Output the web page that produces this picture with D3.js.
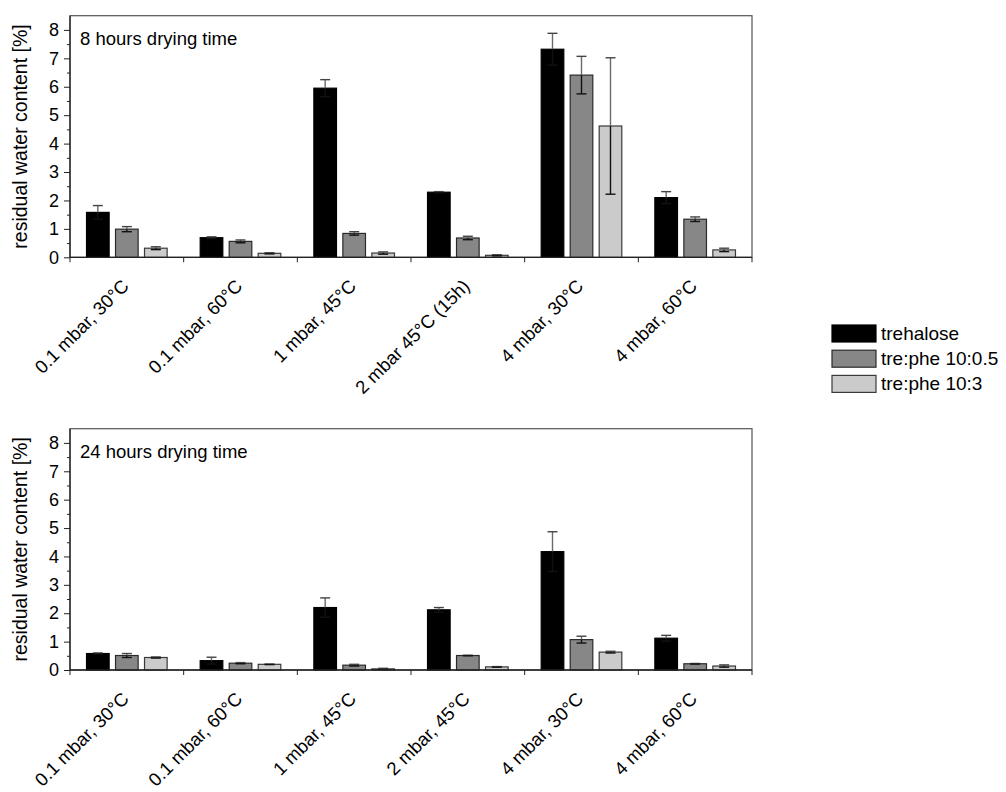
<!DOCTYPE html>
<html>
<head>
<meta charset="utf-8">
<script src="https://cdn.jsdelivr.net/npm/d3@7"></script>
<style>
  body { margin: 0; background: #fff; }
  svg { display: block; font-family: "Liberation Sans", Arial, sans-serif; }
</style>
</head>
<body>
<div id="chart"></div>
<script>
// categories
const categories8 = ["0.1 mbar, 30°C", "0.1 mbar, 60°C", "1 mbar, 45°C", "2 mbar 45°C (15h)", "4 mbar, 30°C", "4 mbar, 60°C"];
const categories24 = ["0.1 mbar, 30°C", "0.1 mbar, 60°C", "1 mbar, 45°C", "2 mbar, 45°C", "4 mbar, 30°C", "4 mbar, 60°C"];
const seriesNames = ["trehalose", "tre:phe 10:0.5", "tre:phe 10:3"];
const yTicks = [0, 1, 2, 3, 4, 5, 6, 7, 8];

// 8 hours drying time
const trehalose8 = [1.58, 0.69, 5.95, 2.29, 7.32, 2.10];
const trehalose8Err = [0.24, 0.03, 0.30, 0.02, 0.56, 0.21];
const trePhe05_8 = [0.99, 0.56, 0.84, 0.68, 6.41, 1.34];
const trePhe05_8Err = [0.09, 0.05, 0.06, 0.06, 0.66, 0.08];
const trePhe3_8 = [0.32, 0.14, 0.15, 0.07, 4.62, 0.26];
const trePhe3_8Err = [0.05, 0.02, 0.04, 0.02, 2.40, 0.06];

// 24 hours drying time
const trehalose24 = [0.58, 0.33, 2.20, 2.12, 4.17, 1.12];
const trehalose24Err = [0.02, 0.12, 0.34, 0.08, 0.70, 0.10];
const trePhe05_24 = [0.51, 0.24, 0.17, 0.51, 1.07, 0.22];
const trePhe05_24Err = [0.07, 0.02, 0.03, 0.01, 0.12, 0.01];
const trePhe3_24 = [0.44, 0.20, 0.04, 0.11, 0.63, 0.14];
const trePhe3_24Err = [0.02, 0.01, 0.02, 0.01, 0.03, 0.04];

const fills = ["#000000", "#878787", "#cbcbcb"];
const strokes = ["#000000", "#2a2a2a", "#3a3a3a"];

const width = 1006, height = 792;
const left = 70, right = 752;

const svg = d3.select("#chart").append("svg")
    .attr("width", width)
    .attr("height", height);

function drawPanel(cfg) {
    const cats = cfg.categories;
    const values = cfg.values;
    const errors = cfg.errors;

    const x = d3.scaleBand()
        .domain(cats)
        .range([left, right])
        .padding(0);

    const xs = d3.scaleBand()
        .domain(d3.range(seriesNames.length))
        .range([0, x.bandwidth()])
        .paddingInner(0.22)
        .paddingOuter(0.57);

    const y = d3.scaleLinear()
        .domain([0, 8.5])
        .range([cfg.bottom, cfg.top]);

    const g = svg.append("g");

    // frame
    g.append("rect")
        .attr("x", left)
        .attr("y", cfg.top)
        .attr("width", right - left)
        .attr("height", cfg.bottom - cfg.top)
        .attr("fill", "none")
        .attr("stroke", "#555")
        .attr("stroke-width", 1.2);

    // bars
    seriesNames.forEach((s, si) => {
        g.append("g").selectAll("rect")
            .data(cats)
            .enter().append("rect")
            .attr("x", (d) => x(d) + xs(si))
            .attr("y", (d, i) => y(values[si][i]))
            .attr("width", xs.bandwidth())
            .attr("height", (d, i) => cfg.bottom - y(values[si][i]))
            .attr("fill", fills[si])
            .attr("stroke", strokes[si])
            .attr("stroke-width", 1.2);
    });

    // error bars
    seriesNames.forEach((s, si) => {
        const eg = g.append("g");
        cats.forEach((c, i) => {
            const cx = x(c) + xs(si) + xs.bandwidth() / 2;
            const v = values[si][i], e = errors[si][i];
            const cap = 5;
            eg.append("line")
                .attr("x1", cx).attr("x2", cx)
                .attr("y1", y(v)).attr("y2", y(v + e))
                .attr("stroke", "#6a6a6a").attr("stroke-width", 1.4);
            eg.append("line")
                .attr("x1", cx).attr("x2", cx)
                .attr("y1", y(v)).attr("y2", y(Math.max(0, v - e)))
                .attr("stroke", "#111").attr("stroke-width", 1.4);
            eg.append("line")
                .attr("x1", cx - cap).attr("x2", cx + cap)
                .attr("y1", y(v + e)).attr("y2", y(v + e))
                .attr("stroke", "#444").attr("stroke-width", 1.4);
            eg.append("line")
                .attr("x1", cx - cap).attr("x2", cx + cap)
                .attr("y1", y(Math.max(0, v - e))).attr("y2", y(Math.max(0, v - e)))
                .attr("stroke", "#111").attr("stroke-width", 1.4);
        });
    });

    // minor y ticks
    g.append("g")
        .attr("transform", "translate(" + left + ",0)")
        .call(d3.axisLeft(y).tickValues(d3.range(0.5, 8.5, 1)).tickSize(3).tickFormat(""))
        .call((a) => a.select(".domain").remove())
        .call((a) => a.selectAll("line").attr("stroke", "#222"));

    // y axis
    g.append("g")
        .attr("transform", "translate(" + left + ",0)")
        .call(d3.axisLeft(y).tickValues(yTicks).tickSize(6).tickPadding(5).tickFormat(d3.format("d")))
        .call((a) => a.select(".domain").remove())
        .call((a) => a.selectAll("line").attr("stroke", "#222"))
        .call((a) => a.selectAll("text")
            .attr("font-size", 18)
            .attr("font-family", "Liberation Sans, Arial, sans-serif")
            .attr("fill", "#000"));

    g.append("line")
        .attr("x1", left).attr("x2", left)
        .attr("y1", cfg.top).attr("y2", cfg.bottom)
        .attr("stroke", "#222").attr("stroke-width", 1.3);

    // x axis: ticks at group boundaries
    const bounds = cats.map((c) => x(c)).concat([right]);
    g.append("g").selectAll("line")
        .data(bounds)
        .enter().append("line")
        .attr("x1", (d) => d).attr("x2", (d) => d)
        .attr("y1", cfg.bottom).attr("y2", cfg.bottom + 5)
        .attr("stroke", "#222");

    g.append("line")
        .attr("x1", left).attr("x2", right)
        .attr("y1", cfg.bottom).attr("y2", cfg.bottom)
        .attr("stroke", "#222").attr("stroke-width", 1.3);

    g.append("g").selectAll("text")
        .data(cats)
        .enter().append("text")
        .attr("transform", (d) => "translate(" + (x(d) + x.bandwidth() / 2 + 3) + "," + (cfg.bottom + 30) + ") rotate(-45)")
        .attr("text-anchor", "end")
        .attr("font-size", 18.5)
        .attr("fill", "#000")
        .text((d) => d);

    // panel title
    g.append("text")
        .attr("x", left + 10)
        .attr("y", y(8) + 15)
        .attr("font-size", 18.5)
        .attr("fill", "#000")
        .text(cfg.title);

    // y label
    g.append("text")
        .attr("transform", "translate(27," + ((cfg.top + cfg.bottom) / 2) + ") rotate(-90)")
        .attr("text-anchor", "middle")
        .attr("font-size", 19.5)
        .attr("fill", "#000")
        .text("residual water content [%]");
}

drawPanel({
    categories: categories8,
    values: [trehalose8, trePhe05_8, trePhe3_8],
    errors: [trehalose8Err, trePhe05_8Err, trePhe3_8Err],
    top: 15.7,
    bottom: 257.3,
    title: "8 hours drying time"
});

drawPanel({
    categories: categories24,
    values: [trehalose24, trePhe05_24, trePhe3_24],
    errors: [trehalose24Err, trePhe05_24Err, trePhe3_24Err],
    top: 428.7,
    bottom: 670,
    title: "24 hours drying time"
});

// legend
const legend = svg.append("g")
    .attr("transform", "translate(832,325)");

const items = legend.selectAll("g")
    .data(seriesNames)
    .enter().append("g")
    .attr("transform", (d, i) => "translate(0," + (i * 25.2) + ")");

items.append("rect")
    .attr("width", 44)
    .attr("height", 17)
    .attr("fill", (d, i) => fills[i])
    .attr("stroke", (d, i) => strokes[i])
    .attr("stroke-width", 1.2);

items.append("text")
    .attr("x", 49)
    .attr("y", 15)
    .attr("font-size", 19)
    .attr("fill", "#000")
    .text((d) => d);
</script>
</body>
</html>
